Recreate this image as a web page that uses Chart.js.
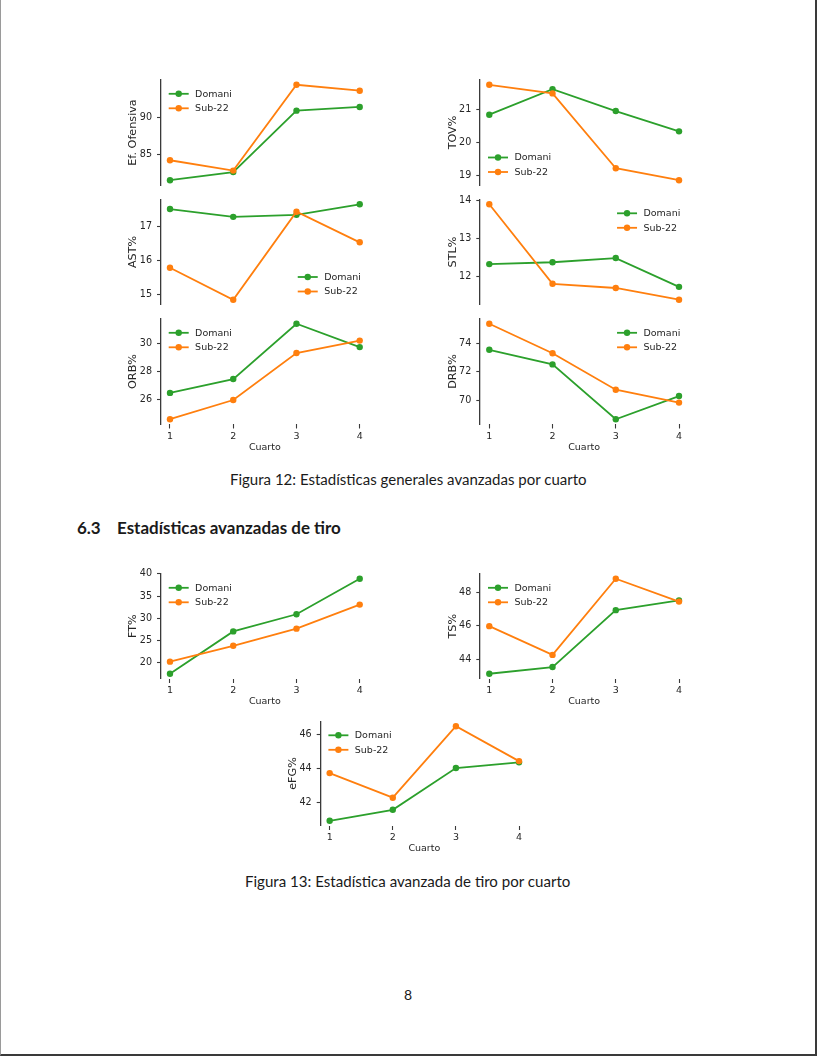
<!DOCTYPE html>
<html><head><meta charset="utf-8">
<script src="https://cdn.jsdelivr.net/npm/chart.js@4.4.1/dist/chart.umd.min.js"></script>
<style>
html,body{margin:0;padding:0;background:#fff;}
body{width:818px;height:1056px;position:relative;overflow:hidden;}
.frame{position:absolute;left:0;top:0;width:814px;height:1054px;border-left:1px solid #9a9a9a;border-right:2px solid #3a3a3a;border-bottom:2px solid #3a3a3a;}
canvas{position:absolute;}
.txt{position:absolute;white-space:nowrap;font-family:Lato,'DejaVu Sans',sans-serif;color:#1a1a1a;line-height:1;}
</style></head><body>
<div class="frame"></div>
<div id="cap12" class="txt">Figura 12: Estadísticas generales avanzadas por cuarto</div>
<div id="secnum" class="txt">6.3</div>
<div id="sectitle" class="txt">Estadísticas avanzadas de tiro</div>
<div id="cap13" class="txt">Figura 13: Estadística avanzada de tiro por cuarto</div>
<div id="pagenum" class="txt">8</div>
<script>
// ---------- data ----------
const cuartos = [1, 2, 3, 4];
const seriesNames = ['Domani', 'Sub-22'];

const efOfDomani = [81.5, 82.6, 90.9, 91.4];
const efOfSub22  = [84.2, 82.8, 94.4, 93.6];
const efOfTicks  = [85, 90];

const tovDomani = [20.83, 21.60, 20.94, 20.33];
const tovSub22  = [21.73, 21.47, 19.22, 18.86];
const tovTicks  = [19, 20, 21];

const astDomani = [17.52, 17.29, 17.35, 17.66];
const astSub22  = [15.79, 14.85, 17.44, 16.54];
const astTicks  = [15, 16, 17];

const stlDomani = [12.32, 12.37, 12.48, 11.72];
const stlSub22  = [13.90, 11.80, 11.69, 11.38];
const stlTicks  = [12, 13, 14];

const orbDomani = [26.47, 27.45, 31.36, 29.71];
const orbSub22  = [24.61, 25.97, 29.29, 30.17];
const orbTicks  = [26, 28, 30];

const drbDomani = [73.55, 72.52, 68.66, 70.29];
const drbSub22  = [75.38, 73.31, 70.74, 69.83];
const drbTicks  = [70, 72, 74];

const ftDomani = [17.58, 27.08, 30.93, 38.90];
const ftSub22  = [20.30, 23.85, 27.70, 33.10];
const ftTicks  = [20, 25, 30, 35, 40];

const tsDomani = [43.13, 43.53, 46.94, 47.52];
const tsSub22  = [45.98, 44.26, 48.82, 47.45];
const tsTicks  = [44, 46, 48];

const efgDomani = [40.89, 41.54, 44.02, 44.36];
const efgSub22  = [43.72, 42.26, 46.50, 44.43];
const efgTicks  = [42, 44, 46];

// ---------- style / layout ----------
const FAM = 'DejaVu Sans';
const GREEN = '#2ca02c', ORANGE = '#ff7f0e', TEXT = '#262626', AXIS = '#3a3a3a';

const columns = {
  left:   { spine: 160.5, right: 369.2 },
  right:  { spine: 479.8, right: 688.5 },
  center: { spine: 320.2, right: 528.5 }
};

const panels = [
  { title: 'Ef. Ofensiva', dom: efOfDomani, sub: efOfSub22, ticks: efOfTicks, col: 'left',  top: 80,    bottom: 185,   legend: 'ul', xlab: false },
  { title: 'TOV%',         dom: tovDomani,  sub: tovSub22,  ticks: tovTicks,  col: 'right', top: 80,    bottom: 185,   legend: 'll', xlab: false },
  { title: 'AST%',         dom: astDomani,  sub: astSub22,  ticks: astTicks,  col: 'left',  top: 199.5, bottom: 304.5, legend: 'lr', xlab: false },
  { title: 'STL%',         dom: stlDomani,  sub: stlSub22,  ticks: stlTicks,  col: 'right', top: 199.5, bottom: 304.5, legend: 'ur', xlab: false },
  { title: 'ORB%',         dom: orbDomani,  sub: orbSub22,  ticks: orbTicks,  col: 'left',  top: 319,   bottom: 424,   legend: 'ul', xlab: true },
  { title: 'DRB%',         dom: drbDomani,  sub: drbSub22,  ticks: drbTicks,  col: 'right', top: 319,   bottom: 424,   legend: 'ur', xlab: true },
  { title: 'FT%',          dom: ftDomani,   sub: ftSub22,   ticks: ftTicks,   col: 'left',  top: 574,   bottom: 678.5, legend: 'ul', xlab: true },
  { title: 'TS%',          dom: tsDomani,   sub: tsSub22,   ticks: tsTicks,   col: 'right', top: 574,   bottom: 678.5, legend: 'ul', xlab: true },
  { title: 'eFG%',         dom: efgDomani,  sub: efgSub22,  ticks: efgTicks,  col: 'center',top: 721.5, bottom: 825.5, legend: 'ul', xlab: true }
];

const legendPlugin = {
  id: 'mplLegend',
  afterDatasetsDraw(chart, args, opts) {
    const { ctx, chartArea: a } = chart;
    const corner = opts.corner;
    const ds = chart.data.datasets;
    ctx.save();
    ctx.font = `9.5px '${FAM}'`;
    const textW = Math.max(...ds.map(d => ctx.measureText(d.label).width));
    const handle = 20, gap = 6.4, rowH = 14.5, pad = 8.2;
    const x0 = corner[1] === 'l' ? a.left + pad : a.right - pad - textW - gap - handle;
    const y0 = corner[0] === 'u' ? a.top + 13.8 : a.bottom - 13 - rowH * (ds.length - 1);
    ds.forEach((d, i) => {
      const y = y0 + i * rowH;
      ctx.strokeStyle = d.borderColor; ctx.lineWidth = 1.8;
      ctx.beginPath(); ctx.moveTo(x0, y); ctx.lineTo(x0 + handle, y); ctx.stroke();
      ctx.fillStyle = d.borderColor;
      ctx.beginPath(); ctx.arc(x0 + handle / 2, y, 3.2, 0, Math.PI * 2); ctx.fill();
      ctx.fillStyle = TEXT; ctx.textBaseline = 'middle'; ctx.textAlign = 'left';
      ctx.fillText(d.label, x0 + handle + gap, y + 0.5);
    });
    ctx.restore();
  }
};

function makeDataset(label, values, color, order) {
  return {
    label, order,
    data: cuartos.map((c, i) => ({ x: c, y: values[i] })),
    borderColor: color, backgroundColor: color,
    pointBackgroundColor: color, pointBorderColor: color,
    borderWidth: 1.8, pointRadius: 3.2, pointHoverRadius: 3.2, pointBorderWidth: 0,
    tension: 0, fill: false
  };
}

panels.forEach(p => {
  const col = columns[p.col];
  const cl = Math.floor(col.spine - 60);
  const ct = Math.floor(p.top - 14);
  const cw = Math.ceil(col.right + 12) - cl;
  const bottomSpace = p.xlab ? 28.5 : 14;
  const ch = Math.ceil(p.bottom + bottomSpace) - ct;
  const canvas = document.createElement('canvas');
  canvas.width = cw; canvas.height = ch;
  canvas.style.left = cl + 'px'; canvas.style.top = ct + 'px';
  canvas.style.width = cw + 'px'; canvas.style.height = ch + 'px';
  document.body.appendChild(canvas);

  const titleSize = 11.2;
  const padLeft = (col.spine - 27) - titleSize * 0.6 - cl;
  const yW = col.spine - cl - padLeft;
  const padRight = cl + cw - col.right;
  const padTop = p.top - ct;
  const xH = p.xlab ? (ct + ch - p.bottom) : 0;
  const padBottom = p.xlab ? 0 : (ct + ch - p.bottom);

  const all = p.dom.concat(p.sub);
  const lo = Math.min(...all), hi = Math.max(...all), m = 0.05 * (hi - lo);
  const xlo = Math.min(...cuartos), xhi = Math.max(...cuartos), xm = 0.05 * (xhi - xlo);

  const xScale = p.xlab ? {
    type: 'linear', min: xlo - xm, max: xhi + xm,
    afterBuildTicks: s => { s.ticks = cuartos.map(v => ({ value: v })); },
    afterFit: s => { s.height = xH; },
    border: { display: false },
    grid: { display: true, drawOnChartArea: false, drawTicks: true, tickLength: 4.5, tickColor: AXIS, tickWidth: 1.1 },
    ticks: { font: { family: FAM, size: 9.5 }, color: TEXT, padding: 2, maxRotation: 0 },
    title: { display: true, text: 'Cuarto', font: { family: FAM, size: 9.5 }, color: TEXT, padding: 0 }
  } : { type: 'linear', min: xlo - xm, max: xhi + xm, display: false };

  new Chart(canvas, {
    type: 'line',
    data: { datasets: [makeDataset(seriesNames[0], p.dom, GREEN, 1), makeDataset(seriesNames[1], p.sub, ORANGE, 0)] },
    options: {
      responsive: false, animation: false, devicePixelRatio: 1, events: [],
      layout: { padding: { left: padLeft, right: padRight, top: padTop, bottom: padBottom } },
      plugins: { legend: { display: false }, tooltip: { enabled: false }, mplLegend: { corner: p.legend } },
      scales: {
        x: xScale,
        y: {
          type: 'linear', min: lo - m, max: hi + m,
          afterBuildTicks: s => { s.ticks = p.ticks.map(v => ({ value: v })); },
          afterFit: s => { s.width = yW; },
          border: { display: true, color: AXIS, width: 1.3 },
          grid: { display: true, drawOnChartArea: false, drawTicks: true, tickLength: 3.5, tickColor: AXIS, tickWidth: 1.1 },
          ticks: { font: { family: FAM, size: 9.6 }, color: TEXT, padding: 5 },
          title: { display: true, text: p.title, font: { family: FAM, size: titleSize }, color: TEXT, padding: { top: 0, bottom: 0 } }
        }
      }
    },
    plugins: [legendPlugin]
  });
});

// ---------- page text ----------
const mctx = document.createElement('canvas').getContext('2d');
function fitSize(text, width, weight) {
  mctx.font = `${weight} 100px Lato`;
  return 100 * width / mctx.measureText(text).width;
}
function place(el, left, baseline, size, weight) {
  el.style.fontSize = size + 'px';
  el.style.fontWeight = weight;
  el.style.left = left + 'px';
  el.style.top = (baseline - 0.887 * size) + 'px';
}
const cap12 = document.getElementById('cap12');
place(cap12, 230, 485.5, fitSize(cap12.textContent, 357, 400), 400);
const st = document.getElementById('sectitle');
const hs = fitSize(st.textContent, 224, 700);
place(st, 117, 534.5, hs, 700);
place(document.getElementById('secnum'), 77, 534.5, hs, 700);
const cap13 = document.getElementById('cap13');
place(cap13, 245, 887.5, fitSize(cap13.textContent, 326, 400), 400);
const pn = document.getElementById('pagenum');
place(pn, 404, 1000.5, 14, 400);
</script>
</body></html>
